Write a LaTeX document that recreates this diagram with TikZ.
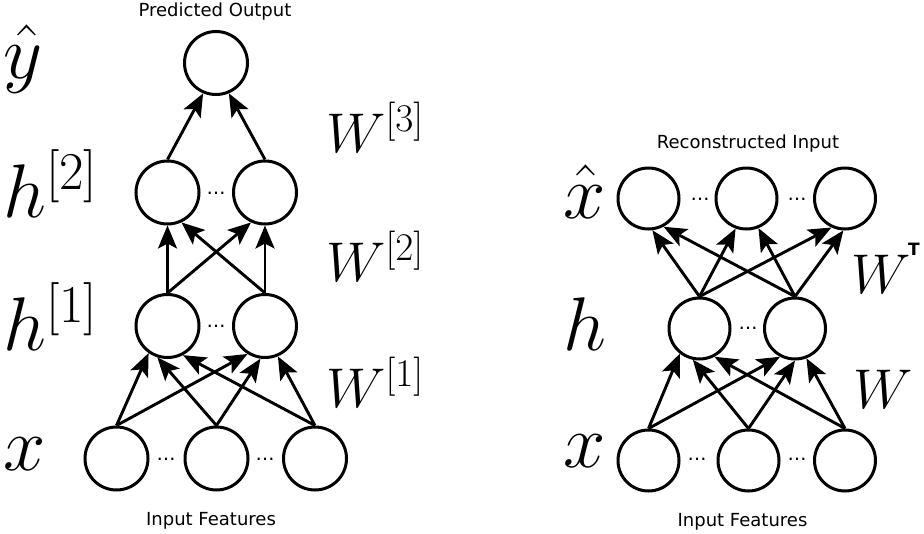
\RequirePackage{fix-cm}
\documentclass[tikz,border=0pt]{standalone}
\usepackage[no-math]{fontspec}
\usetikzlibrary{arrows.meta}
\newfontfamily\lab{DejaVu Sans}
\tikzset{
 neuron/.style={circle, draw, line width=3pt, minimum size=63pt, inner sep=0pt},
 rneuron/.style={neuron, minimum size=61pt},
 arr/.style={-{Stealth[length=23pt,width=19pt,inset=5pt]}, line width=2.9pt},
 bigmath/.style={anchor=base west, inner sep=0pt, font=\fontsize{76}{80}\selectfont},
 wmath/.style={anchor=base west, inner sep=0pt, font=\fontsize{56}{60}\selectfont},
 caption/.style={anchor=base, inner sep=0pt, font=\lab\fontsize{18}{20}\selectfont},
 dotsnode/.style={anchor=base, inner sep=0pt, font=\lab\fontsize{19}{19}\selectfont},
}
\begin{document}
\begin{tikzpicture}[x=1pt,y=-1pt]
\useasboundingbox (0,0) rectangle (924,533);
% ---------- left network ----------
\node[neuron] (y) at (216,63) {};
\node[neuron] (h2a) at (167.5,192.5) {};
\node[neuron] (h2b) at (265,192.5) {};
\node[neuron] (h1a) at (167.5,326) {};
\node[neuron] (h1b) at (265,326) {};
\node[neuron] (xa) at (116.5,458.5) {};
\node[neuron] (xb) at (216.5,458.5) {};
\node[neuron] (xc) at (315,458.5) {};
\node[dotsnode] (d1) at (216,194) {…};
\node[dotsnode] (d2) at (216,327.5) {…};
\node[dotsnode] (d3) at (166,460) {…};
\node[dotsnode] (d4) at (265,460) {…};

\draw[arr] (h2a.north) -- (y.247);
\draw[arr] (h2b.north) -- (y.293);
\draw[arr] (h1a.north) -- (h2a.south);
\draw[arr] (h1a.north) -- (h2b.245);
\draw[arr] (h1b.north) -- (h2a.295);
\draw[arr] (h1b.north) -- (h2b.south);
\draw[arr] (xa.north) -- (h1a.235);
\draw[arr] (xa.north) -- (h1b.238);
\draw[arr] (xb.north) -- (h1a.252);
\draw[arr] (xb.north) -- (h1b.262);
\draw[arr] (xc.north) -- (h1a.298);
\draw[arr] (xc.north) -- (h1b.293);

\node[bigmath] (ly) at (3,78) {$\hat{y}$};
\node[bigmath] (lh2) at (3,217) {$h^{[2]}$};
\node[bigmath] (lh1) at (3,350) {$h^{[1]}$};
\node[bigmath] (lx) at (3,470) {$x$};
\node[wmath] (lw3) at (326,152) {$W^{[3]}$};
\node[wmath] (lw2) at (326,281) {$W^{[2]}$};
\node[wmath] (lw1) at (326,407) {$W^{[1]}$};
\node[caption] (cap1) at (215,16) {Predicted Output};
\node[caption] (cap2) at (211,525) {Input Features};

% ---------- right network ----------
\node[rneuron] (xha) at (648.5,198.5) {};
\node[rneuron] (xhb) at (746.5,198.5) {};
\node[rneuron] (xhc) at (845,198.5) {};
\node[rneuron] (ha) at (699.5,328.5) {};
\node[rneuron] (hb) at (795,328.5) {};
\node[rneuron] (xa2) at (648.5,460.5) {};
\node[rneuron] (xb2) at (748.5,460.5) {};
\node[rneuron] (xc2) at (845,460.5) {};
\node[dotsnode] (d5) at (700,200) {…};
\node[dotsnode] (d6) at (797,200) {…};
\node[dotsnode] (d7) at (748,329.5) {…};
\node[dotsnode] (d8) at (697,460) {…};
\node[dotsnode] (d9) at (797,460) {…};

\draw[arr] (ha.north) -- (xha.277);
\draw[arr] (hb.north) -- (xha.298);
\draw[arr] (ha.north) -- (xhb.250);
\draw[arr] (hb.north) -- (xhb.292);
\draw[arr] (ha.north) -- (xhc.245);
\draw[arr] (hb.north) -- (xhc.267);
\draw[arr] (xa2.north) -- (ha.232);
\draw[arr] (xb2.north) -- (ha.258);
\draw[arr] (xc2.north) -- (ha.298);
\draw[arr] (xa2.north) -- (hb.242);
\draw[arr] (xb2.north) -- (hb.270);
\draw[arr] (xc2.north) -- (hb.291);

\node[bigmath] (lxh) at (563,218) {$\hat{x}$};
\node[bigmath] (lh) at (563,350) {$h$};
\node[bigmath] (lx2) at (563,467) {$x$};
\node[wmath] (lwt) at (851,293) {$W$};
\node[anchor=base, inner sep=0pt, font=\lab\bfseries\fontsize{17}{17}\selectfont] (lt) at (914,255) {T};
\node[wmath] (lw) at (853,408) {$W$};
\node[caption] (cap3) at (748,148) {Reconstructed Input};
\node[caption] (cap4) at (742.5,526) {Input Features};
\end{tikzpicture}
\end{document}
